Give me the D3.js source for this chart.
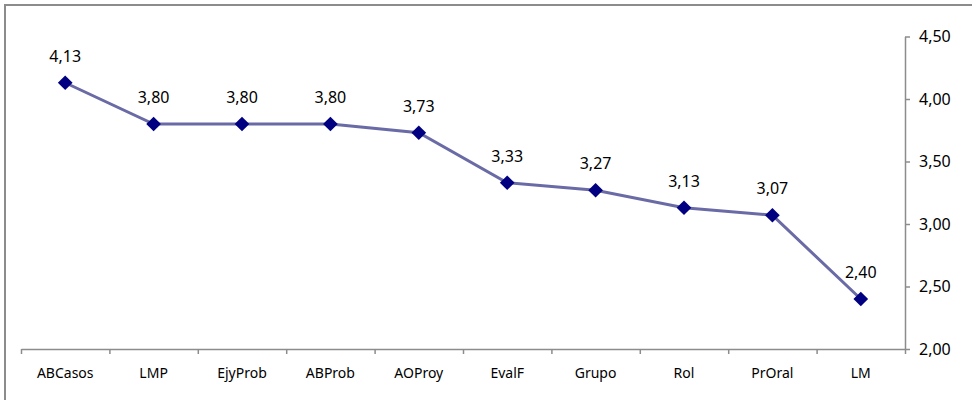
<!DOCTYPE html>
<html>
<head>
<meta charset="utf-8">
<script src="https://cdn.jsdelivr.net/npm/d3@7/dist/d3.min.js"></script>
<style>
body{margin:0;background:#fff;}
svg{display:block;font-family:"Noto Sans",sans-serif;}
.axis path,.axis line{stroke:#8c8c8c;stroke-width:1.5;}
</style>
</head>
<body>
<svg id="chart" width="972" height="400"></svg>
<script>
var categories=["ABCasos","LMP","EjyProb","ABProb","AOProy","EvalF","Grupo","Rol","PrOral","LM"]
var values=[4.13,3.80,3.80,3.80,3.73,3.33,3.27,3.13,3.07,2.40]
var yTicks=[2.00,2.50,3.00,3.50,4.00,4.50]

var plotLeft=21,plotRight=905,plotTop=36.5,plotBottom=349

var svg=d3.select("#chart")

// chart frame
svg.append("rect")
.attr("x",5).attr("y",5)
.attr("width",990).attr("height",420)
.attr("fill","none")
.attr("stroke","#8c8c8c")
.attr("stroke-width",2)

var xBand=d3.scaleBand()
.domain(categories)
.range([plotLeft,plotRight])

var xEdge=d3.scaleLinear()
.domain([0,categories.length])
.range([plotLeft,plotRight])

var yScale=d3.scaleLinear()
.domain([2,4.5])
.range([plotBottom,plotTop])

var fmt=d=>d.toFixed(2).replace(".",",")

// x axis ticks at category boundaries
svg.append("g")
.classed("axis",true)
.attr("transform","translate(0,"+plotBottom+")")
.call(d3.axisBottom(xEdge).tickValues(d3.range(categories.length+1)).tickFormat("").tickSize(5).tickSizeOuter(0))

// x labels
var xLab=svg.append("g")
.attr("transform","translate(0,"+plotBottom+")")
.call(d3.axisBottom(xBand).tickSize(0).tickPadding(19))
xLab.select(".domain").remove()
xLab.selectAll("text").attr("font-size",14).attr("font-family","Noto Sans").attr("fill","#000")

// right y axis
var yAx=svg.append("g")
.classed("axis",true)
.attr("transform","translate("+plotRight+",0)")
.call(d3.axisRight(yScale).tickValues(yTicks).tickFormat(fmt).tickSize(5).tickSizeOuter(0).tickPadding(9))
yAx.selectAll("text").attr("font-size",16).attr("font-family","Noto Sans").attr("fill","#000")

var cx=d=>xBand(d)+xBand.bandwidth()/2
var pts=categories.map((c,i)=>({cat:c,val:values[i]}))

var line=d3.line()
.x(d=>cx(d.cat))
.y(d=>yScale(d.val))

svg.append("path")
.datum(pts)
.attr("d",line)
.attr("fill","none")
.attr("stroke","#6a6aa6")
.attr("stroke-width",3)

svg.selectAll(".marker")
.data(pts)
.enter()
.append("rect")
.classed("marker",true)
.attr("x",-5.2).attr("y",-5.2)
.attr("width",10.4).attr("height",10.4)
.attr("fill","#000080")
.attr("transform",d=>"translate("+cx(d.cat)+","+yScale(d.val)+") rotate(45)")

svg.selectAll(".lbl")
.data(pts)
.enter()
.append("text")
.classed("lbl",true)
.attr("x",d=>cx(d.cat))
.attr("y",d=>yScale(d.val)-21)
.attr("text-anchor","middle")
.attr("font-size",16)
.attr("fill","#000")
.text(d=>fmt(d.val))
</script>
</body>
</html>
